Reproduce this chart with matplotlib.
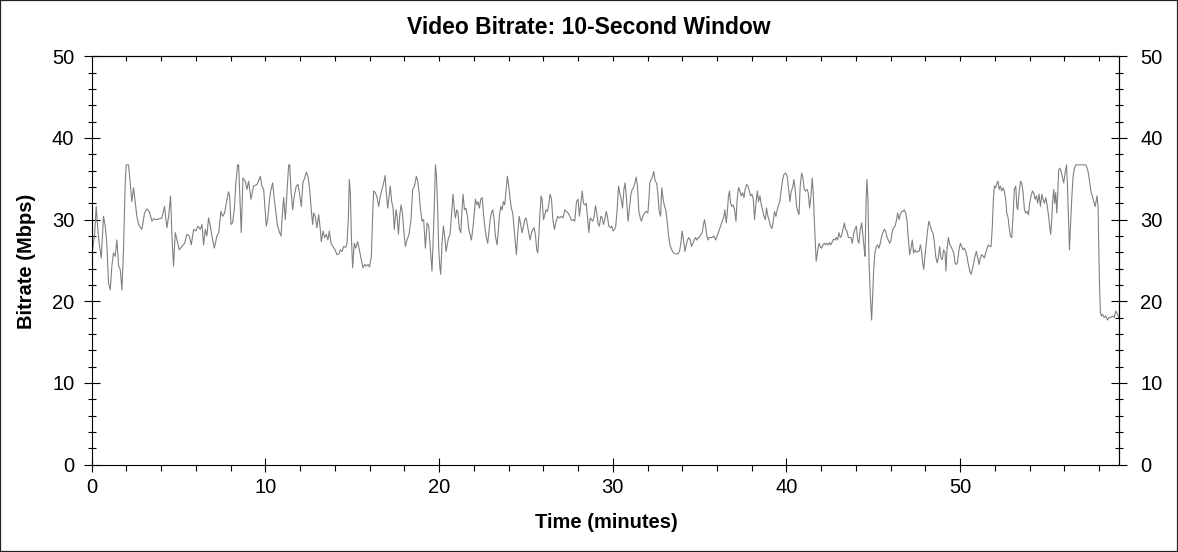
import matplotlib
matplotlib.use("Agg")
import matplotlib.pyplot as plt
from matplotlib.ticker import MultipleLocator
from matplotlib.patches import Rectangle

# (minute, Mbps) readings, grouped by ~10-minute stretch
seg_00_10 = [
    (0.00, 0.0), (0.05, 26.3), (0.16, 28.0), (0.26, 31.6), (0.34, 29.2), (0.43, 27.1),
    (0.55, 25.3), (0.68, 30.4), (0.78, 29.2), (0.87, 27.1), (0.97, 22.2), (1.07, 21.4),
    (1.16, 24.3), (1.25, 25.9), (1.35, 25.5), (1.45, 27.5), (1.55, 24.3), (1.64, 23.9),
    (1.74, 21.4), (1.83, 26.3), (1.93, 34.5), (1.99, 36.7), (2.12, 36.7), (2.22, 34.5),
    (2.31, 32.2), (2.41, 33.9), (2.51, 32.0), (2.60, 30.4), (2.70, 29.4), (2.89, 28.8),
    (3.04, 30.8), (3.18, 31.3), (3.31, 31.0), (3.47, 29.8), (3.56, 30.1), (3.75, 30.0),
    (4.04, 30.2), (4.19, 31.6), (4.33, 29.0), (4.43, 30.4), (4.54, 32.9), (4.62, 28.0),
    (4.71, 24.3), (4.81, 28.4), (4.91, 27.5), (5.04, 26.3), (5.19, 26.7), (5.35, 27.1),
    (5.48, 28.2), (5.62, 28.0), (5.73, 26.9), (5.87, 28.8), (6.00, 28.6), (6.12, 29.2),
    (6.25, 28.8), (6.35, 29.4), (6.44, 26.9), (6.54, 28.8), (6.63, 28.0), (6.73, 30.2),
    (6.83, 29.2), (6.92, 28.0), (7.06, 26.5), (7.21, 28.0), (7.31, 28.4), (7.44, 31.0),
    (7.54, 30.4), (7.65, 30.8), (7.79, 32.5), (7.88, 33.4), (7.94, 32.9), (8.02, 29.4),
    (8.11, 29.6), (8.21, 31.2), (8.30, 34.5), (8.40, 36.7), (8.46, 36.7), (8.52, 33.3),
    (8.61, 28.4), (8.71, 35.1), (8.84, 34.7), (8.94, 33.7), (9.03, 34.7), (9.17, 32.5),
    (9.32, 34.1), (9.52, 34.3),
]
seg_10_20 = [
    (9.71, 35.3), (9.80, 34.1), (9.90, 33.7), (9.99, 31.0), (10.05, 29.2), (10.13, 30.0),
    (10.24, 32.5), (10.32, 33.7), (10.42, 34.5), (10.51, 32.5), (10.61, 30.8), (10.70, 29.2),
    (10.82, 28.4), (10.90, 28.0), (10.97, 30.4), (11.05, 32.7), (11.15, 30.0), (11.24, 33.3),
    (11.34, 36.7), (11.40, 36.7), (11.47, 33.7), (11.57, 31.2), (11.66, 32.9), (11.78, 34.1),
    (11.88, 34.3), (11.97, 33.1), (12.07, 31.6), (12.16, 34.5), (12.26, 35.1), (12.36, 35.8),
    (12.45, 35.3), (12.55, 33.7), (12.64, 31.2), (12.72, 29.4), (12.78, 30.8), (12.87, 30.4),
    (12.97, 29.0), (13.07, 30.6), (13.16, 28.8), (13.22, 27.3), (13.32, 28.6), (13.41, 27.8),
    (13.51, 28.2), (13.60, 27.5), (13.68, 28.6), (13.78, 27.1), (13.89, 26.7), (14.01, 26.3),
    (14.12, 25.7), (14.24, 25.8), (14.31, 26.3), (14.41, 26.1), (14.51, 26.7), (14.62, 26.6),
    (14.70, 27.1), (14.78, 30.4), (14.83, 34.9), (14.89, 33.3), (14.95, 28.0), (15.02, 24.1),
    (15.12, 27.1), (15.20, 26.5), (15.31, 27.3), (15.41, 26.3), (15.52, 25.1), (15.62, 24.1),
    (15.72, 24.5), (15.81, 24.3), (15.91, 24.5), (16.00, 24.2), (16.10, 25.5), (16.16, 29.6),
    (16.23, 33.5), (16.33, 33.3), (16.43, 32.7), (16.52, 31.6), (16.62, 32.9), (16.71, 33.7),
    (16.81, 34.5), (16.89, 35.4), (16.96, 33.3), (17.04, 31.4), (17.12, 32.9), (17.19, 34.1),
    (17.27, 32.2), (17.35, 31.4), (17.42, 28.8), (17.52, 31.2), (17.58, 30.4), (17.66, 28.2),
    (17.73, 30.4), (17.81, 31.8), (17.89, 30.8), (17.96, 28.8), (18.06, 26.7), (18.15, 27.5),
    (18.27, 28.2), (18.38, 30.0), (18.48, 33.7), (18.58, 34.1), (18.69, 35.3), (18.77, 34.7),
    (18.85, 33.3), (18.92, 31.4), (19.02, 29.8), (19.11, 30.0), (19.21, 26.5), (19.31, 29.6),
    (19.40, 29.2), (19.50, 26.3), (19.59, 23.7), (19.69, 29.2),
]
seg_20_30 = [
    (19.79, 36.7), (19.85, 35.3), (19.92, 31.2), (19.98, 26.3), (20.04, 24.3), (20.09, 23.3),
    (20.17, 27.1), (20.25, 29.2), (20.32, 28.0), (20.40, 26.1), (20.48, 27.1), (20.55, 27.8),
    (20.63, 28.2), (20.71, 30.4), (20.80, 33.1), (20.88, 31.2), (20.94, 30.2), (21.02, 31.2),
    (21.09, 30.8), (21.17, 28.8), (21.25, 28.4), (21.32, 31.2), (21.38, 33.1), (21.46, 31.2),
    (21.55, 31.4), (21.63, 30.4), (21.71, 28.8), (21.80, 28.0), (21.86, 27.5), (21.94, 28.8),
    (22.01, 30.4), (22.09, 32.5), (22.17, 31.8), (22.24, 32.2), (22.32, 31.4), (22.40, 32.5),
    (22.48, 32.7), (22.57, 30.4), (22.65, 28.8), (22.72, 27.8), (22.80, 27.1), (22.86, 28.4),
    (22.94, 30.0), (23.01, 30.8), (23.09, 31.2), (23.17, 30.0), (23.24, 28.0), (23.34, 26.9),
    (23.40, 28.4), (23.47, 30.4), (23.55, 31.6), (23.63, 31.2), (23.70, 32.2), (23.78, 31.8),
    (23.86, 33.7), (23.93, 35.3), (24.01, 34.1), (24.09, 32.5), (24.16, 31.4), (24.24, 30.8),
    (24.32, 28.8), (24.39, 27.1), (24.45, 25.7), (24.53, 28.4), (24.61, 30.4), (24.68, 29.6),
    (24.78, 28.4), (24.86, 29.2), (24.93, 30.0), (25.01, 30.2), (25.09, 29.2), (25.16, 28.4),
    (25.24, 27.5), (25.32, 28.4), (25.39, 28.8), (25.47, 29.0), (25.55, 28.0), (25.62, 26.3),
    (25.68, 25.9), (25.74, 28.0), (25.82, 31.2), (25.87, 32.9), (25.93, 32.5), (26.01, 30.0),
    (26.09, 30.6), (26.16, 31.2), (26.24, 31.0), (26.31, 31.8), (26.39, 33.1), (26.47, 32.5),
    (26.55, 30.0), (26.64, 28.8), (26.74, 29.8), (26.83, 30.4), (26.93, 30.2), (27.05, 30.4),
    (27.14, 30.2), (27.24, 31.2), (27.33, 31.0), (27.43, 30.8), (27.53, 30.4), (27.62, 29.9),
    (27.72, 30.0), (27.81, 29.8), (27.91, 32.2), (28.00, 32.5), (28.08, 30.4), (28.16, 32.0),
    (28.24, 33.5), (28.31, 32.0), (28.39, 31.8), (28.47, 32.0), (28.54, 30.4), (28.62, 28.4),
    (28.70, 30.2), (28.77, 30.0), (28.85, 29.8), (28.93, 30.4), (29.00, 31.7), (29.08, 30.8),
    (29.16, 29.4), (29.23, 29.2), (29.31, 30.4), (29.39, 30.2), (29.46, 29.4), (29.54, 30.0),
    (29.62, 31.0), (29.69, 30.4), (29.77, 29.2),
]
seg_30_40 = [
    (29.87, 29.0), (29.94, 29.2), (30.02, 28.6), (30.10, 28.8), (30.17, 29.2), (30.25, 31.2),
    (30.33, 34.1), (30.40, 33.3), (30.48, 32.5), (30.56, 31.4), (30.64, 33.7), (30.71, 34.5),
    (30.79, 32.5), (30.88, 29.8), (30.96, 31.4), (31.04, 33.1), (31.12, 33.7), (31.19, 33.9),
    (31.27, 34.5), (31.35, 35.2), (31.42, 34.1), (31.50, 31.0), (31.58, 30.2), (31.65, 29.8),
    (31.73, 30.4), (31.83, 30.8), (31.92, 31.0), (32.02, 30.8), (32.08, 32.5), (32.13, 34.5),
    (32.21, 34.9), (32.29, 35.3), (32.36, 35.9), (32.44, 34.7), (32.52, 34.5), (32.59, 33.3),
    (32.67, 31.0), (32.75, 30.4), (32.82, 33.9), (32.90, 32.5), (32.98, 31.6), (33.05, 31.2),
    (33.13, 29.8), (33.21, 28.0), (33.29, 26.9), (33.36, 26.5), (33.44, 26.1), (33.52, 25.9),
    (33.63, 25.8), (33.75, 25.8), (33.84, 26.1), (33.92, 27.1), (33.99, 28.6), (34.07, 27.5),
    (34.15, 26.1), (34.23, 26.9), (34.30, 27.5), (34.38, 27.8), (34.46, 27.5), (34.53, 26.7),
    (34.61, 27.1), (34.69, 27.5), (34.76, 27.8), (34.84, 27.5), (34.92, 27.8), (34.99, 27.8),
    (35.07, 28.2), (35.15, 28.4), (35.22, 29.4), (35.28, 30.0), (35.34, 29.2), (35.40, 28.2),
    (35.47, 27.5), (35.55, 27.8), (35.63, 27.8), (35.72, 27.8), (35.82, 28.0), (35.92, 27.5),
    (36.01, 28.0), (36.11, 28.6), (36.20, 29.2), (36.30, 29.8), (36.40, 30.4), (36.45, 31.2),
    (36.53, 29.6), (36.59, 30.8), (36.66, 32.9), (36.72, 33.5), (36.78, 32.0), (36.86, 31.6),
    (36.93, 31.8), (37.01, 31.2), (37.09, 29.8), (37.16, 32.5), (37.24, 33.9), (37.32, 33.5),
    (37.39, 32.9), (37.47, 33.3), (37.55, 32.7), (37.62, 33.7), (37.70, 34.3), (37.78, 34.1),
    (37.86, 33.5), (37.93, 32.9), (38.01, 33.1), (38.09, 32.5), (38.16, 30.0), (38.24, 32.0),
    (38.32, 33.5), (38.39, 32.2), (38.47, 32.9), (38.55, 31.8), (38.62, 31.2), (38.70, 30.4),
    (38.78, 30.0), (38.85, 31.4), (38.93, 30.4), (39.01, 29.8), (39.08, 29.2), (39.16, 28.9),
    (39.24, 29.8), (39.31, 31.0), (39.39, 30.4), (39.47, 31.2), (39.54, 31.8), (39.62, 32.2),
    (39.70, 33.7), (39.78, 34.9), (39.85, 35.5),
]
seg_40_50 = [
    (39.95, 35.7), (40.04, 35.3), (40.12, 33.7), (40.20, 32.2), (40.27, 33.5), (40.35, 33.9),
    (40.43, 34.9), (40.50, 33.7), (40.58, 31.6), (40.66, 31.0), (40.72, 30.6), (40.79, 34.1),
    (40.87, 35.7), (40.95, 35.1), (41.02, 33.7), (41.10, 33.5), (41.18, 33.7), (41.25, 33.3),
    (41.33, 31.4), (41.41, 32.9), (41.48, 35.1), (41.54, 33.3), (41.60, 30.0), (41.66, 27.1),
    (41.71, 24.9), (41.79, 26.1), (41.87, 27.1), (41.94, 26.7), (42.02, 26.5), (42.10, 26.9),
    (42.18, 27.1), (42.25, 26.9), (42.33, 27.1), (42.41, 26.9), (42.48, 27.2), (42.56, 26.9),
    (42.64, 27.3), (42.71, 27.6), (42.79, 27.5), (42.87, 27.8), (42.94, 27.5), (43.02, 28.4),
    (43.10, 27.8), (43.17, 28.0), (43.25, 28.8), (43.33, 29.6), (43.40, 28.8), (43.48, 28.6),
    (43.56, 27.8), (43.63, 27.8), (43.71, 27.8), (43.79, 27.1), (43.86, 28.2), (43.94, 28.8),
    (44.02, 29.2), (44.10, 27.5), (44.17, 27.1), (44.25, 28.8), (44.33, 29.6), (44.40, 28.0),
    (44.48, 26.3), (44.52, 25.5), (44.58, 32.0), (44.63, 34.9), (44.69, 32.5), (44.75, 24.9),
    (44.82, 21.0), (44.90, 17.7), (44.96, 20.6), (45.02, 23.9), (45.09, 25.9), (45.17, 26.7),
    (45.25, 26.9), (45.32, 26.5), (45.40, 27.1), (45.48, 28.0), (45.55, 28.4), (45.63, 28.8),
    (45.71, 28.6), (45.79, 27.8), (45.86, 27.5), (45.94, 27.1), (46.02, 27.5), (46.09, 28.6),
    (46.17, 29.0), (46.25, 29.2), (46.32, 29.8), (46.40, 30.8), (46.48, 30.0), (46.55, 30.6),
    (46.63, 31.0), (46.71, 31.0), (46.78, 31.2), (46.86, 30.8), (46.94, 29.8), (47.01, 27.8),
    (47.09, 25.7), (47.17, 26.5), (47.24, 27.5), (47.32, 25.9), (47.40, 26.3), (47.47, 26.0),
    (47.55, 26.1), (47.63, 26.1), (47.71, 26.9), (47.78, 26.1), (47.84, 24.7), (47.90, 23.9),
    (47.97, 25.5), (48.05, 27.1), (48.13, 28.8), (48.20, 29.8), (48.28, 29.2), (48.36, 28.6),
    (48.43, 28.4), (48.51, 27.3), (48.59, 25.5), (48.67, 24.7), (48.74, 25.3), (48.82, 26.7),
    (48.89, 25.3), (48.97, 25.1), (49.05, 26.3), (49.13, 25.9), (49.18, 23.7), (49.24, 26.3),
    (49.32, 27.8), (49.40, 26.9), (49.47, 26.7), (49.55, 26.3), (49.63, 25.9), (49.70, 24.7),
]
seg_50_end = [
    (49.78, 24.5), (49.84, 24.7), (49.93, 26.3), (50.01, 27.1), (50.09, 26.7), (50.16, 26.3),
    (50.24, 26.5), (50.32, 26.1), (50.39, 25.5), (50.47, 24.5), (50.55, 23.7), (50.62, 23.3),
    (50.70, 23.9), (50.78, 24.7), (50.85, 25.5), (50.93, 26.1), (51.01, 25.3), (51.09, 24.5),
    (51.16, 25.3), (51.24, 25.7), (51.32, 25.5), (51.39, 25.3), (51.47, 25.9), (51.55, 26.5),
    (51.62, 26.9), (51.70, 26.7), (51.78, 26.7), (51.85, 29.2), (51.91, 32.5), (51.97, 34.1),
    (52.04, 33.9), (52.12, 34.5), (52.18, 34.7), (52.24, 33.7), (52.31, 34.1), (52.39, 33.5),
    (52.47, 33.9), (52.54, 33.5), (52.62, 32.5), (52.68, 30.8), (52.76, 30.2), (52.81, 29.2),
    (52.89, 28.0), (52.97, 27.8), (53.04, 30.4), (53.12, 33.7), (53.20, 34.1), (53.26, 31.6),
    (53.31, 31.2), (53.39, 33.3), (53.47, 34.7), (53.54, 34.5), (53.62, 33.3), (53.70, 31.2),
    (53.77, 30.8), (53.85, 31.0), (53.93, 30.6), (54.00, 32.0), (54.08, 32.9), (54.16, 33.5),
    (54.23, 33.3), (54.31, 32.5), (54.39, 32.9), (54.46, 32.0), (54.54, 33.1), (54.62, 31.6),
    (54.70, 33.1), (54.77, 32.5), (54.85, 32.0), (54.93, 32.7), (55.00, 31.8), (55.08, 30.6),
    (55.16, 29.0), (55.21, 28.2), (55.27, 30.0), (55.33, 32.5), (55.39, 33.7), (55.44, 32.0),
    (55.50, 33.3), (55.56, 30.8), (55.62, 33.3), (55.67, 36.1), (55.75, 36.3), (55.83, 35.7),
    (55.89, 35.1), (55.96, 34.5), (56.04, 35.7), (56.12, 36.7), (56.17, 34.5), (56.23, 30.4),
    (56.29, 26.3), (56.35, 29.2), (56.42, 32.5), (56.50, 35.3), (56.58, 36.3), (56.65, 36.7),
    (56.85, 36.7), (57.04, 36.7), (57.23, 36.7), (57.31, 36.3), (57.38, 35.7), (57.46, 34.5),
    (57.54, 33.3), (57.61, 32.9), (57.69, 32.2), (57.77, 31.6), (57.82, 32.2), (57.88, 32.9),
    (57.94, 31.4), (57.98, 26.3), (58.02, 22.2), (58.07, 18.6), (58.13, 18.2), (58.19, 18.4),
    (58.29, 18.0), (58.38, 18.2), (58.48, 17.7), (58.57, 18.0), (58.67, 18.0), (58.77, 18.2),
    (58.86, 18.0), (58.96, 18.8), (59.05, 18.4), (59.15, 18.0),
]

segments = [seg_00_10, seg_10_20, seg_20_30, seg_30_40, seg_40_50, seg_50_end]
minutes = [t for seg in segments for t, _ in seg]
bitrate = [v for seg in segments for _, v in seg]

title = "Video Bitrate: 10-Second Window"
x_label = "Time (minutes)"
y_label = "Bitrate (Mbps)"

plt.rcParams['font.family'] = ['Liberation Sans', 'DejaVu Sans']

W, H = 1178, 552
fig = plt.figure(figsize=(W / 100, H / 100), dpi=100)
fig.patch.set_facecolor('white')

left_px, right_px, top_px, bot_px = 91.7, 1119.3, 56.3, 464.5
ax = fig.add_axes([left_px / W, 1 - bot_px / H, (right_px - left_px) / W, (bot_px - top_px) / H])
ax.plot(minutes, bitrate, color='#808080', lw=0.8, solid_joinstyle='round')
ax.set_xlim(0, 59.16)
ax.set_ylim(0, 50)

for s in ax.spines.values():
    s.set_linewidth(0.8)
    s.set_color('black')

ax.xaxis.set_major_locator(MultipleLocator(10))
ax.xaxis.set_minor_locator(MultipleLocator(2))
ax.yaxis.set_major_locator(MultipleLocator(10))
ax.yaxis.set_minor_locator(MultipleLocator(2))

tick_font = 14.5
ax.tick_params(axis='x', which='major', direction='inout', length=10, width=0.8,
               bottom=True, top=False, labelsize=tick_font, pad=5)
ax.tick_params(axis='x', which='minor', direction='out', length=4, width=0.8,
               bottom=True, top=False)
ax.tick_params(axis='y', which='major', direction='inout', length=11, width=0.8,
               left=True, right=False, labelsize=tick_font, pad=7)
ax.tick_params(axis='y', which='minor', direction='inout', length=5.5, width=0.8,
               left=True, right=False)

# top ticks (inward)
top = ax.secondary_xaxis('top')
top.xaxis.set_major_locator(MultipleLocator(10))
top.xaxis.set_minor_locator(MultipleLocator(2))
top.tick_params(axis='x', which='both', direction='in', length=3.8, width=0.8, labeltop=False)
top.spines['top'].set_linewidth(0.8)

# right ticks with labels
right = ax.secondary_yaxis('right')
right.yaxis.set_major_locator(MultipleLocator(10))
right.yaxis.set_minor_locator(MultipleLocator(2))
right.tick_params(axis='y', which='major', direction='inout', length=11, width=0.8,
                  labelsize=tick_font, pad=9.5)
right.tick_params(axis='y', which='minor', direction='inout', length=5.5, width=0.8)
right.spines['right'].set_linewidth(0.8)

fig.text(589 / W, 1 - 27 / H, title, ha='center', va='center',
         fontsize=16.5, fontweight='bold')
fig.text(606 / W, 1 - 523 / H, x_label, ha='center', va='center',
         fontsize=14.5, fontweight='bold')
fig.text(27 / W, 1 - 261 / H, y_label, ha='center', va='center', rotation=90,
         fontsize=14.5, fontweight='bold')

fig.patches.append(Rectangle((0, 0), 1, 1, transform=fig.transFigure, fill=False,
                             edgecolor='#222222', lw=1.6, clip_on=False))

fig.savefig('out.png', dpi=100, facecolor='white')
